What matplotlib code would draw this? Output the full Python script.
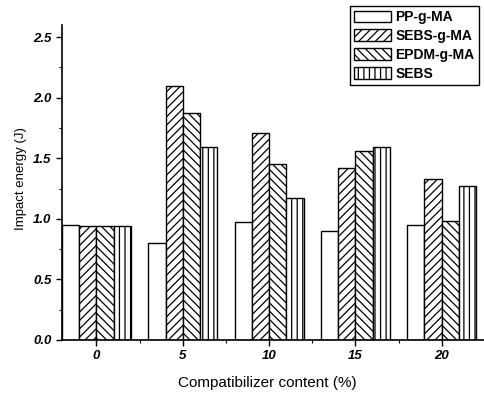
import numpy as np
import matplotlib.pyplot as plt
from matplotlib.ticker import MultipleLocator

plt.rcParams['font.family'] = ['Liberation Sans', 'DejaVu Sans']
plt.rcParams['hatch.linewidth'] = 0.9

# impact energy (J) per compatibilizer content (%)
content = np.array([0, 5, 10, 15, 20])
pp_g_ma = [0.95, 0.80, 0.97, 0.90, 0.95]
sebs_g_ma = [0.945, 2.10, 1.71, 1.42, 1.33]
epdm_g_ma = [0.945, 1.87, 1.45, 1.56, 0.98]
sebs = [0.945, 1.59, 1.17, 1.59, 1.27]
yticks = [0.0, 0.5, 1.0, 1.5, 2.0, 2.5]

labels = ['PP-g-MA', 'SEBS-g-MA', 'EPDM-g-MA', 'SEBS']
hatches = ['', '////', '\\\\\\\\', '|||']
series = [pp_g_ma, sebs_g_ma, epdm_g_ma, sebs]

fig = plt.figure(figsize=(4.84, 3.97), dpi=100)
ax = fig.add_axes([0.128, 0.1436, 0.872, 0.7934])

w = 1.0
offsets = [-1.5, -0.5, 0.5, 1.5]
handles = []
for vals, off, h, lab in zip(series, offsets, hatches, labels):
    b = ax.bar(content + off * w, vals, width=w, color='white',
               edgecolor='black', linewidth=1.0, hatch=h, label=lab)
    handles.append(b)

ax.set_xlim(-2.0, 22.45)
ax.set_ylim(0, 2.6)
ax.spines['top'].set_visible(False)
ax.spines['right'].set_visible(False)
ax.spines['left'].set_linewidth(1.2)
ax.spines['bottom'].set_linewidth(1.2)

ax.set_xticks(content)
ax.set_xticklabels([str(c) for c in content], style='italic',
                   fontweight='bold')
ax.set_yticks(yticks)
ax.set_yticklabels(['%.1f' % v for v in yticks], style='italic',
                   fontweight='bold')
ax.xaxis.set_minor_locator(MultipleLocator(2.5))
ax.yaxis.set_minor_locator(MultipleLocator(0.25))
ax.tick_params(which='major', direction='out', length=4, width=1.0,
               labelsize=9.5)
ax.tick_params(which='minor', direction='out', length=2.5, width=0.8)

ax.set_xlabel('Compatibilizer content (%)', fontsize=11)
ax.set_ylabel('Impact energy (J)', fontsize=9.5)
ax.xaxis.set_label_coords(0.486, -0.115)
ax.yaxis.set_label_coords(-0.082, 0.513)

leg = fig.legend(handles=handles, loc='upper right',
                 bbox_to_anchor=(0.995, 0.992), fancybox=False,
                 framealpha=1, edgecolor='black', fontsize=10,
                 handlelength=2.7, handleheight=0.9, labelspacing=0.35,
                 handletextpad=0.3, borderpad=0.3, borderaxespad=0.2)
leg.get_frame().set_linewidth(1.0)
for t in leg.get_texts():
    t.set_fontweight('bold')

fig.savefig('out.png', dpi=100)
